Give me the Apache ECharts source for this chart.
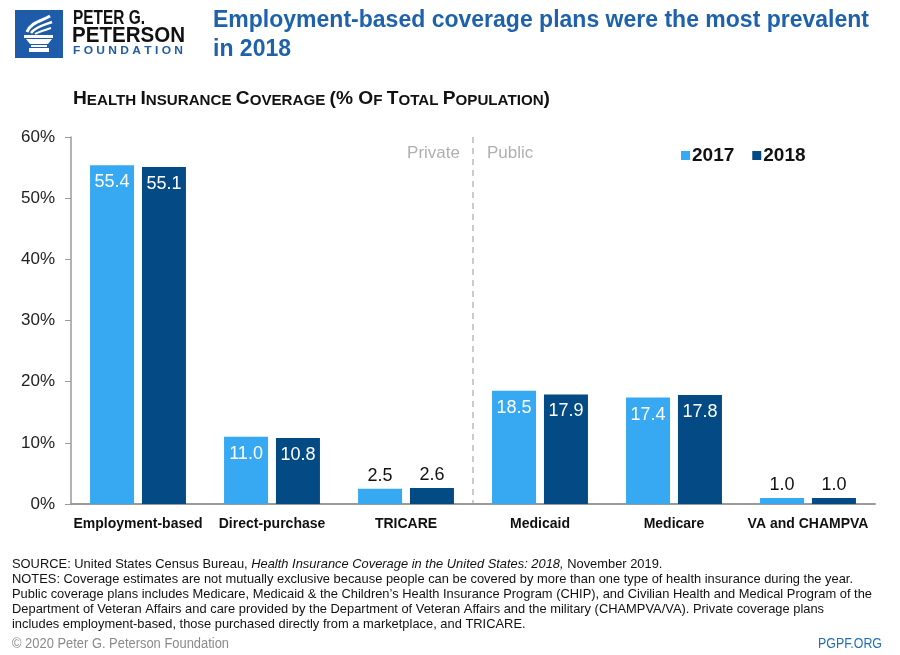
<!DOCTYPE html>
<html><head><meta charset="utf-8">
<script src="https://cdn.jsdelivr.net/npm/echarts@6/dist/echarts.min.js"></script>
<style>html,body{margin:0;padding:0;background:#fff}#c{width:900px;height:655px}</style>
</head><body><div id="c"></div>
<script>
const categories = ['Employment-based','Direct-purchase','TRICARE','Medicaid','Medicare','VA and CHAMPVA'];
const seriesNames = ['2017','2018'];
const values2017 = [55.4, 11.0, 2.5, 18.5, 17.4, 1.0];
const values2018 = [55.1, 10.8, 2.6, 17.9, 17.8, 1.0];
const yTicks = [0,10,20,30,40,50,60];

const LIGHT = '#37a9f3', DARK = '#044b86', BLUE = '#1d62ab';
const SANS = '"Liberation Sans",Arial,sans-serif';

const mctx = document.createElement('canvas').getContext('2d');
function measure(text, size, weight, style){
  mctx.font = (style||'normal') + ' ' + (weight||'normal') + ' ' + size + 'px ' + SANS;
  return mctx.measureText(text).width;
}
// text squeezed/stretched horizontally to a target width, anchored at left x, vertical middle y
function fitText(text, x, y, size, weight, fill, targetW){
  const w = measure(text, size, weight);
  return {type:'text', x:x, y:y, scaleX:targetW / w, scaleY:1,
    style:{text:text, fontFamily:SANS, fontSize:size, fontWeight:weight||'normal', fill:fill, align:'left', verticalAlign:'middle'}};
}

function barData(vals){
  return vals.map(v => ({
    value: v,
    label: v >= 5
      ? {position:'insideTop', distance:8, color:'#fff'}
      : {position:'top', distance:4, color:'#111'}
  }));
}

const chart = echarts.init(document.getElementById('c'), null, {renderer:'canvas'});
const labelBase = {show:true, fontFamily:SANS, fontSize:18, formatter:p => p.value.toFixed(1)};

chart.setOption({
  animation:false,
  backgroundColor:'#fff',
  grid:{left:71, right:25, top:137, bottom:151, containLabel:false},
  legend:{
    data:seriesNames, left:676, top:141, icon:'rect', itemWidth:9, itemHeight:9, itemGap:18,
    textStyle:{fontFamily:SANS, fontWeight:'bold', fontSize:19, color:'#111', padding:[0,0,0,-3]}
  },
  xAxis:{
    type:'category', data:categories,
    axisLine:{lineStyle:{color:'#9a9a9a', width:2}},
    axisTick:{show:false},
    axisLabel:{interval:0, fontFamily:SANS, fontWeight:'bold', fontSize:14, color:'#111', margin:13}
  },
  yAxis:{
    type:'value', min:yTicks[0], max:yTicks[yTicks.length-1], interval:10,
    axisLine:{show:true, lineStyle:{color:'#9a9a9a', width:1.5}},
    axisTick:{show:true, length:6, lineStyle:{color:'#9a9a9a'}},
    splitLine:{show:false},
    axisLabel:{formatter:'{value}%', fontFamily:SANS, fontSize:17, color:'#222', margin:16}
  },
  series:[
    {name:seriesNames[0], type:'bar', data:barData(values2017), barWidth:44, barGap:'18%',
     itemStyle:{color:LIGHT}, label:labelBase},
    {name:seriesNames[1], type:'bar', data:barData(values2018), barWidth:44, barGap:'18%',
     itemStyle:{color:DARK}, label:labelBase}
  ]
});

// separator between private and public
const xA = chart.convertToPixel({xAxisIndex:0}, categories[2]);
const xB = chart.convertToPixel({xAxisIndex:0}, categories[3]);
const sepX = (xA + xB) / 2;
const yTop = chart.convertToPixel({yAxisIndex:0}, 60);
const yBot = chart.convertToPixel({yAxisIndex:0}, 0);

// footer
const FS = 13.5;
const src1 = 'SOURCE: United States Census Bureau, ';
const src2 = 'Health Insurance Coverage in the United States: 2018,';
const src3 = ' November 2019.';
const footLines = [
  'NOTES: Coverage estimates are not mutually exclusive because people can be covered by more than one type of health insurance during the year.',
  'Public coverage plans includes Medicare, Medicaid & the Children\u2019s Health Insurance Program (CHIP), and Civilian Health and Medical Program of the',
  'Department of Veteran Affairs and care provided by the Department of Veteran Affairs and the military (CHAMPVA/VA). Private coverage plans',
  'includes employment-based, those purchased directly from a marketplace, and TRICARE.'
];
const footScale = 841 / measure(footLines[0], FS);
const footEls = footLines.map((t,i) => ({
  type:'text', x:12, y:579 + i*15, scaleX:footScale,
  style:{text:t, fontFamily:SANS, fontSize:FS, fill:'#111', align:'left', verticalAlign:'middle'}
}));

// title scale
const T1 = 'Employment-based coverage plans were the most prevalent';
const titleScale = 656 / measure(T1, 23, 'bold');

// subtitle small caps
const subParts = [['a','H'],['b','EALTH '],['a','I'],['b','NSURANCE '],['a','C'],['b','OVERAGE '],['a','(% O'],['b','F '],['a','T'],['b','OTAL '],['a','P'],['b','OPULATION'],['a',')']];
const subW = subParts.reduce((s,p) => s + measure(p[1], p[0]==='a'?19:15, 'bold'), 0);

chart.setOption({
  graphic:[
    // logo
    {type:'rect', shape:{x:15, y:10, width:48, height:48}, style:{fill:'#1e5ba8'}},
    {type:'bezierCurve', shape:{x1:27,y1:32,cpx1:31,cpy1:22,cpx2:42,cpy2:21,x2:50,y2:16}, style:{stroke:'#fff', lineWidth:3, fill:null}},
    {type:'bezierCurve', shape:{x1:31,y1:33,cpx1:35,cpy1:27,cpx2:44,cpy2:25,x2:52,y2:22}, style:{stroke:'#fff', lineWidth:2.5, fill:null}},
    {type:'bezierCurve', shape:{x1:35,y1:34,cpx1:40,cpy1:31,cpx2:46,cpy2:30,x2:51,y2:28}, style:{stroke:'#fff', lineWidth:2, fill:null}},
    {type:'rect', shape:{x:24, y:35, width:29, height:3}, style:{fill:'#fff'}},
    {type:'polygon', shape:{points:[[26,39],[52,39],[48,44],[30,44]]}, style:{fill:'#fff'}},
    {type:'rect', shape:{x:31, y:45, width:16, height:2}, style:{fill:'#fff'}},
    {type:'rect', shape:{x:29, y:48, width:20, height:4}, style:{fill:'#fff'}},
    fitText('PETER G.', 73, 18.5, 19.5, 'bold', '#111', 72),
    fitText('PETERSON', 72, 35.5, 22, 'bold', '#111', 113),
    fitText('F O U N D A T I O N', 73, 50.5, 11.5, 'bold', '#1e5ba8', 110),
    // title
    {type:'text', x:213, y:21, scaleX:titleScale, style:{text:T1, fontFamily:SANS, fontWeight:'bold', fontSize:23, fill:BLUE, verticalAlign:'middle'}},
    {type:'text', x:213, y:50, scaleX:titleScale, style:{text:'in 2018', fontFamily:SANS, fontWeight:'bold', fontSize:23, fill:BLUE, verticalAlign:'middle'}},
    // subtitle in small caps
    {type:'text', x:73, y:89, scaleX:477/subW, style:{
      text:subParts.map(p => '{' + p[0] + '|' + p[1] + '}').join(''),
      rich:{
        a:{fontFamily:SANS, fontWeight:'bold', fontSize:19, fill:'#111', verticalAlign:'bottom'},
        b:{fontFamily:SANS, fontWeight:'bold', fontSize:15, fill:'#111', verticalAlign:'bottom'}
      }}},
    // private / public
    {type:'line', shape:{x1:sepX, y1:yTop, x2:sepX, y2:yBot}, style:{stroke:'#aaaaaa', lineWidth:1.2, lineDash:[6,5]}},
    {type:'text', x:sepX-13, y:153, style:{text:'Private', fontFamily:SANS, fontSize:17, fill:'#b0b0b0', align:'right', verticalAlign:'middle'}},
    {type:'text', x:sepX+14, y:153, style:{text:'Public', fontFamily:SANS, fontSize:17, fill:'#b0b0b0', align:'left', verticalAlign:'middle'}},
    // footer
    {type:'text', x:12, y:564, scaleX:footScale, style:{
      text:'{n|' + src1 + '}{i|' + src2 + '}{n|' + src3 + '}',
      verticalAlign:'middle',
      rich:{
        n:{fontFamily:SANS, fontSize:FS, fill:'#111'},
        i:{fontFamily:SANS, fontSize:FS, fontStyle:'italic', fill:'#111'}
      }}},
    ...footEls,
    fitText('\u00a9 2020 Peter G. Peterson Foundation', 12, 644, 14, 'normal', '#8a8a8a', 217),
    fitText('PGPF.ORG', 818, 644, 14, 'normal', '#1e6fb8', 64)
  ]
});
</script>
</body></html>
